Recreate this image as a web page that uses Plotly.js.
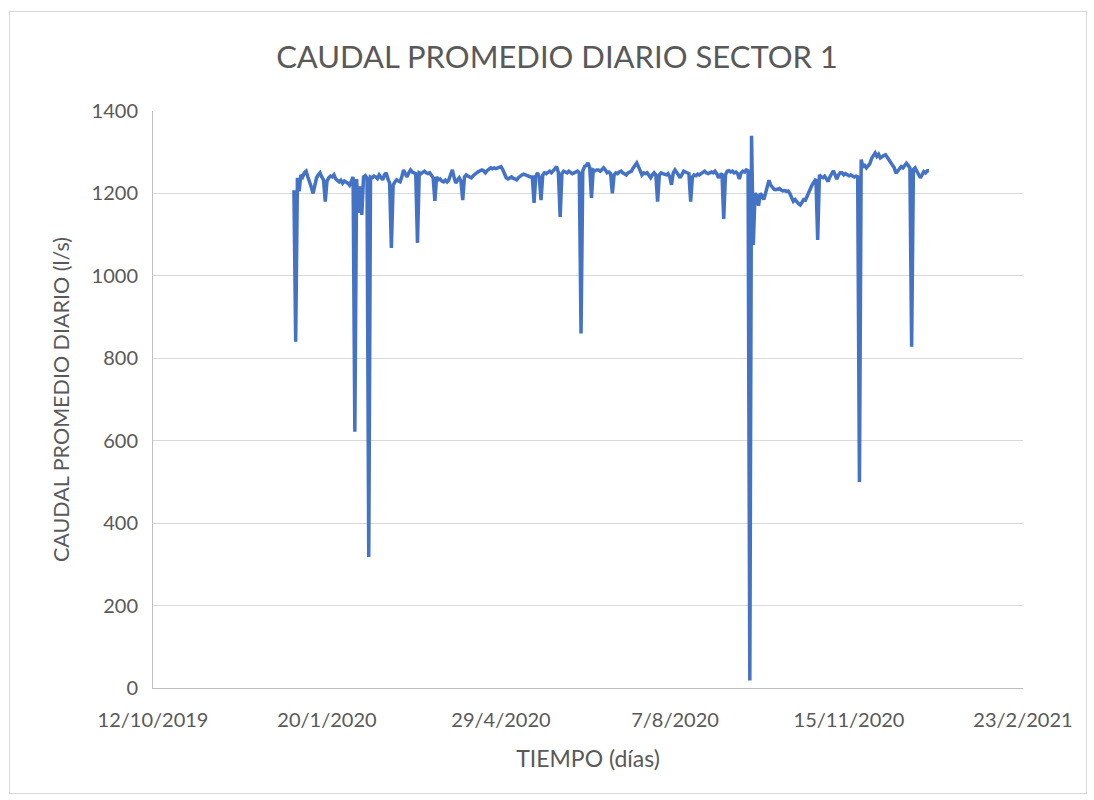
<!DOCTYPE html>
<html>
<head>
<meta charset="utf-8">
<script src="https://cdn.plot.ly/plotly-3.0.1.min.js"></script>
<style>
  html, body { margin: 0; padding: 0; background: #ffffff; }
  #wrap { position: relative; width: 1094px; height: 800px; }
  #chart { position: absolute; left: 0; top: 0; width: 1094px; height: 800px; }
  #frame { position: absolute; left: 9px; top: 11px; width: 1076px; height: 781px; border: 1px solid #d9d9d9; pointer-events: none; }
</style>
</head>
<body>
<div id="wrap">
  <div id="chart"></div>
  <div id="frame"></div>
</div>
<script>
// Daily series: first day of the record and daily average flow (l/s)
const startDate = '2020-01-01';
const caudal = [
  1208, 840, 1238, 1205, 1245, 1240, 1250, 1254, 1240, 1230,
  1215, 1200, 1225, 1238, 1245, 1250, 1240, 1233, 1180, 1230,
  1238, 1242, 1240, 1245, 1235, 1230, 1228, 1232, 1225, 1230,
  1228, 1225, 1220, 1232, 1240, 622, 1235, 1153, 1217, 1148,
  1240, 1243, 1238, 318, 1240, 1238, 1242, 1240, 1236, 1245,
  1240, 1233, 1245, 1250, 1235, 1225, 1068, 1220, 1228, 1233,
  1230, 1228, 1240, 1257, 1248, 1240, 1250, 1257, 1252, 1250,
  1248, 1080, 1250, 1248, 1252, 1254, 1250, 1248, 1250, 1245,
  1238, 1182, 1240, 1233, 1235, 1230, 1228, 1232, 1228, 1233,
  1245, 1257, 1240, 1225, 1232, 1238, 1230, 1184, 1240, 1245,
  1242, 1240, 1238, 1243, 1247, 1250, 1253, 1255, 1257, 1255,
  1250, 1255, 1260, 1262, 1260, 1262, 1260, 1262, 1263, 1265,
  1258, 1245, 1238, 1235, 1238, 1240, 1237, 1235, 1233, 1238,
  1242, 1245, 1247, 1245, 1245, 1243, 1240, 1240, 1177, 1242,
  1250, 1240, 1184, 1245, 1250, 1248, 1252, 1254, 1250, 1255,
  1257, 1265, 1250, 1143, 1248, 1254, 1252, 1250, 1254, 1250,
  1248, 1250, 1252, 1254, 1250, 860, 1255, 1265, 1268, 1274,
  1262, 1189, 1257, 1255, 1257, 1257, 1254, 1258, 1262, 1257,
  1250, 1252, 1248, 1200, 1245, 1250, 1248, 1252, 1254, 1250,
  1248, 1245, 1250, 1252, 1254, 1262, 1268, 1274, 1265, 1255,
  1245, 1250, 1248, 1250, 1245, 1238, 1245, 1250, 1245, 1180,
  1245, 1250, 1248, 1247, 1245, 1248, 1240, 1221, 1250, 1257,
  1252, 1245, 1238, 1248, 1254, 1252, 1250, 1248, 1180, 1240,
  1245, 1243, 1247, 1245, 1248, 1250, 1254, 1250, 1248, 1250,
  1252, 1250, 1254, 1248, 1238, 1245, 1248, 1138, 1245, 1254,
  1255, 1252, 1254, 1250, 1252, 1248, 1235, 1250, 1254, 1252,
  1257, 1255, 18, 1340, 1075, 1200, 1195, 1170, 1200, 1195,
  1185, 1200, 1215, 1232, 1220, 1215, 1210, 1209, 1210, 1212,
  1208, 1206, 1207, 1205, 1206, 1200, 1190, 1181, 1185, 1178,
  1175, 1172, 1178, 1185, 1184, 1195, 1205, 1213, 1222, 1230,
  1235, 1087, 1245, 1240, 1238, 1242, 1235, 1229, 1240, 1248,
  1255, 1245, 1235, 1245, 1250, 1250, 1245, 1248, 1245, 1243,
  1245, 1242, 1240, 1242, 1240, 500, 1282, 1265, 1268, 1262,
  1268, 1272, 1285, 1292, 1298, 1290, 1295, 1286, 1290, 1292,
  1294, 1288, 1282, 1277, 1270, 1262, 1249, 1255, 1262, 1265,
  1262, 1268, 1273, 1268, 1262, 828, 1258, 1262, 1255, 1248,
  1238, 1245, 1253, 1250, 1255, 1255
];

// X-axis ticks
const xTickVals = ['2019-10-12', '2020-01-20', '2020-04-29', '2020-08-07', '2020-11-15', '2021-02-23'];
const xTickText = ['12/10/2019', '20/1/2020', '29/4/2020', '7/8/2020', '15/11/2020', '23/2/2021'];
const xRange = ['2019-10-12', '2021-02-23'];
const yTickVals = [0, 200, 400, 600, 800, 1000, 1200, 1400];

// Day sequence for the series
const fechas = caudal.map((_, i) => {
  const d = new Date(startDate + 'T00:00:00Z');
  d.setUTCDate(d.getUTCDate() + i);
  return d.toISOString().slice(0, 10);
});

const FONT = 'Lato, "Open Sans", "Liberation Sans", sans-serif';
const GREY = '#595959';

const trace = {
  x: fechas,
  y: caudal,
  type: 'scatter',
  mode: 'lines',
  line: { color: '#4472C4', width: 3.5, shape: 'linear' },
  hoverinfo: 'x+y'
};

const layout = {
  width: 1094,
  height: 800,
  margin: { l: 153, r: 71, t: 111, b: 112, pad: 0 },
  paper_bgcolor: '#ffffff',
  plot_bgcolor: '#ffffff',
  showlegend: false,
  font: { family: FONT, color: GREY, size: 20 },
  title: {
    text: 'CAUDAL PROMEDIO DIARIO SECTOR 1',
    font: { family: FONT, size: 31, color: GREY },
    x: 557 / 1094, xanchor: 'center', xref: 'container',
    y: 1 - 57 / 800, yanchor: 'middle', yref: 'container'
  },
  xaxis: {
    type: 'date',
    range: xRange,
    tickmode: 'array',
    tickvals: xTickVals,
    ticktext: xTickText,
    showgrid: false,
    zeroline: false,
    showline: true,
    linecolor: '#bfbfbf',
    linewidth: 1,
    ticks: '',
    ticklabelstandoff: 14,
    tickfont: { family: FONT, size: 20, color: GREY },
    title: { text: 'TIEMPO (días)', font: { family: FONT, size: 23, color: GREY }, standoff: 20 },
    fixedrange: true
  },
  yaxis: {
    range: [0, 1400],
    tickmode: 'array',
    tickvals: yTickVals,
    showgrid: true,
    gridcolor: '#d9d9d9',
    gridwidth: 1,
    zeroline: false,
    showline: true,
    linecolor: '#bfbfbf',
    linewidth: 1,
    ticks: '',
    ticklabelstandoff: 10,
    tickfont: { family: FONT, size: 20, color: GREY },
    title: { text: 'CAUDAL PROMEDIO DIARIO (l/s)', font: { family: FONT, size: 21.5, color: GREY }, standoff: 16 },
    fixedrange: true
  }
};

Plotly.newPlot('chart', [trace], layout, { displayModeBar: false, staticPlot: true });
</script>
</body>
</html>
